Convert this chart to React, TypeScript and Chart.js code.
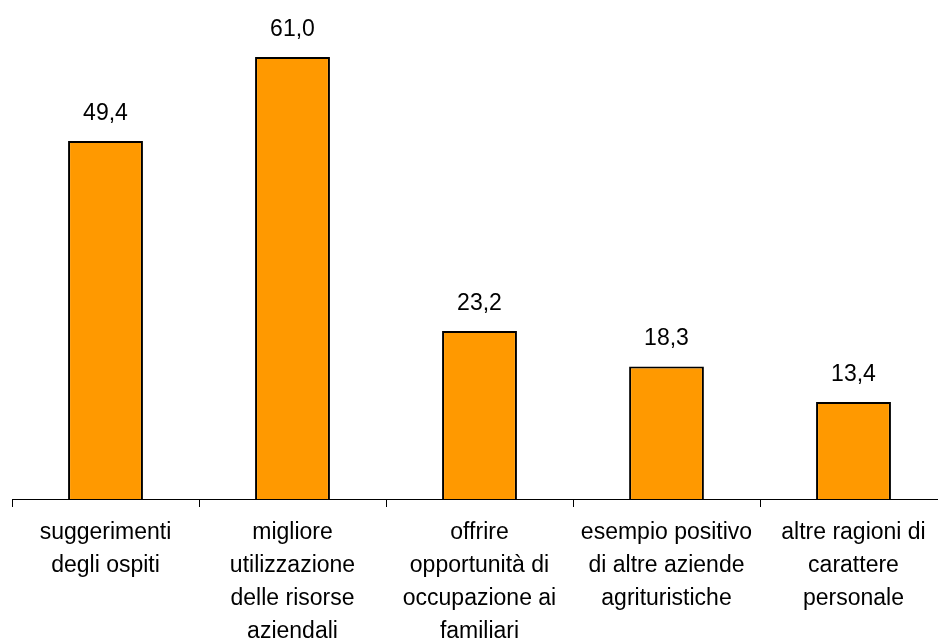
import React, { useEffect, useRef } from "react";
import { Chart, registerables } from "chart.js";

Chart.register(...registerables);

const categories: string[][] = [
  ["suggerimenti", "degli ospiti"],
  ["migliore", "utilizzazione", "delle risorse", "aziendali"],
  ["offrire", "opportunità di", "occupazione ai", "familiari"],
  ["esempio positivo", "di altre aziende", "agrituristiche"],
  ["altre ragioni di", "carattere", "personale"],
];
const values: number[] = [49.4, 61.0, 23.2, 18.3, 13.4];

const FONT = "'Liberation Sans', Arial, sans-serif";

export default function App() {
  const ref = useRef<HTMLCanvasElement | null>(null);
  useEffect(() => {
    if (!ref.current) return;
    const labelPlugin = {
      id: "valueLabels",
      afterDatasetsDraw(chart: any) {
        const ctx = chart.ctx;
        const meta = chart.getDatasetMeta(0);
        ctx.save();
        ctx.font = `23px ${FONT}`;
        ctx.fillStyle = "#000";
        ctx.textAlign = "center";
        ctx.textBaseline = "alphabetic";
        meta.data.forEach((el: any, i: number) => {
          const v = values[i].toFixed(1).replace(".", ",");
          ctx.fillText(v, el.x, el.y - 21);
        });
        ctx.restore();
      },
    };
    const chart = new Chart(ref.current, {
      type: "bar",
      data: {
        labels: categories,
        datasets: [
          {
            data: values,
            backgroundColor: "#FF9900",
            borderColor: "#000000",
            borderWidth: 2,
            categoryPercentage: 1,
            barPercentage: 0.4,
          },
        ],
      },
      options: {
        animation: false,
        responsive: false,
        maintainAspectRatio: false,
        layout: { padding: { left: 12, right: 1, top: 28, bottom: 0 } },
        plugins: { legend: { display: false }, tooltip: { enabled: false } },
        scales: {
          y: { display: false, min: 0, max: 65 },
          x: {
            border: { display: true, color: "#000", width: 1 },
            grid: {
              display: true,
              offset: true,
              drawOnChartArea: false,
              drawTicks: true,
              tickLength: 8,
              color: "#000",
            },
            ticks: {
              color: "#000",
              font: { family: FONT, size: 23, lineHeight: 1.435 },
              padding: 9,
              maxRotation: 0,
              autoSkip: false,
            },
            afterFit: (scale: any) => {
              scale.height = 140;
            },
          },
        },
      },
      plugins: [labelPlugin],
    });
    return () => chart.destroy();
  }, []);
  return (
    <div style={{ position: "fixed", left: 0, top: 0, width: 948, height: 639, background: "#fff" }}>
      <canvas ref={ref} width={948} height={639} style={{ display: "block" }} />
    </div>
  );
}
